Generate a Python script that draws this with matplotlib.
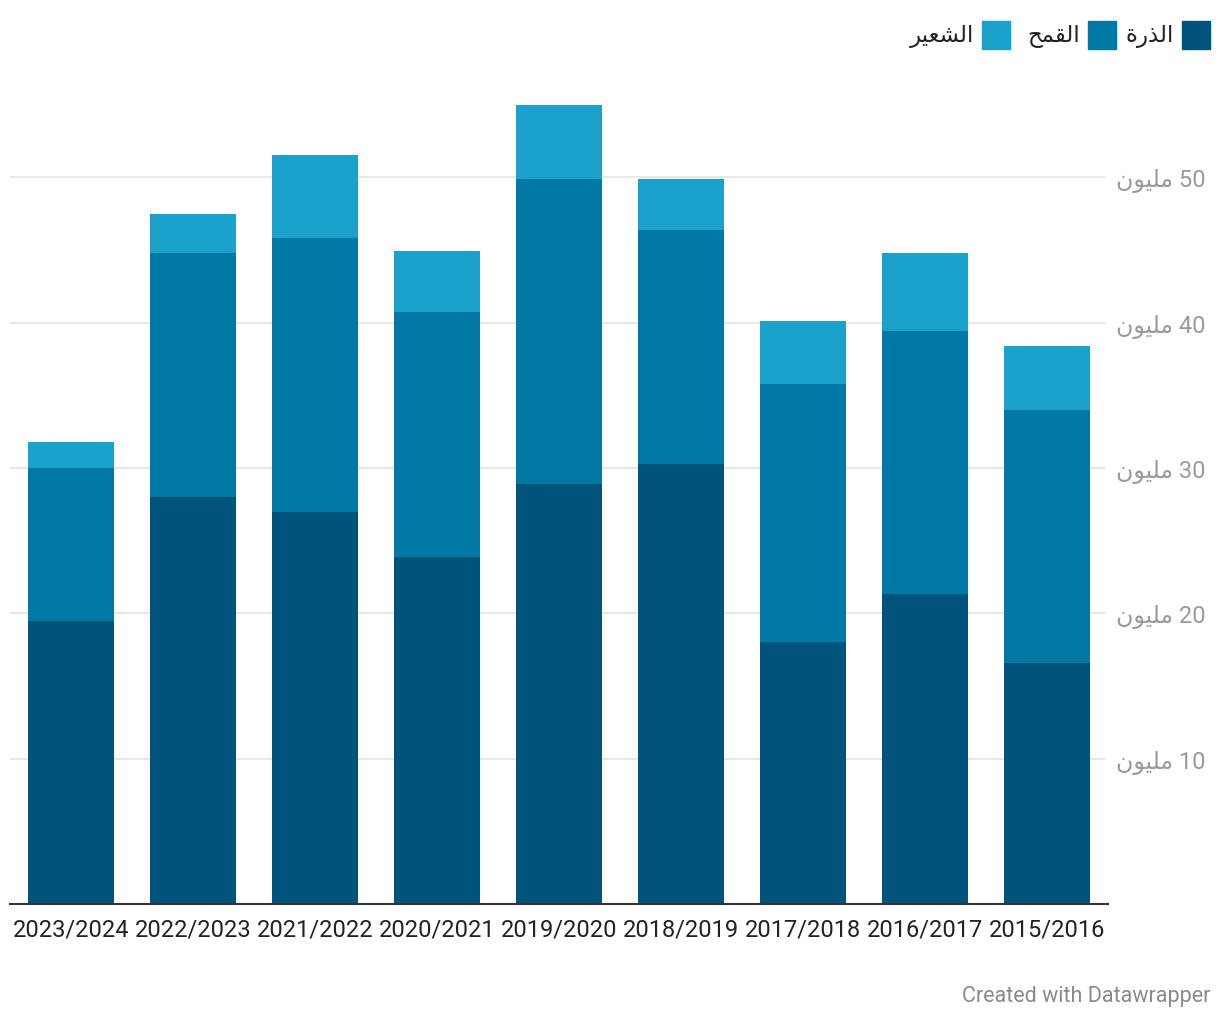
import matplotlib
matplotlib.use("Agg")
import matplotlib.pyplot as plt
from matplotlib.patches import Rectangle

# data (million tonnes)
seasons = ['2023/2024', '2022/2023', '2021/2022', '2020/2021', '2019/2020',
           '2018/2019', '2017/2018', '2016/2017', '2015/2016']
corn = [19.5, 28.0, 27.0, 23.9, 28.9, 30.3, 18.0, 21.3, 16.6]
wheat = [10.5, 16.8, 18.8, 16.8, 21.0, 16.1, 17.8, 18.1, 17.4]
barley = [1.8, 2.7, 5.7, 4.2, 5.05, 3.5, 4.3, 5.4, 4.4]
series_names = ['الذرة', 'القمح', 'الشعير']
colors = ['#00537b', '#0179a4', '#1aa1cc']
yticks = [10, 20, 30, 40, 50]
unit = 'مليون'

# --- tiny arabic shaper (no arabic_reshaper here) ---
# letter: (isolated, final, initial, medial); None = does not join forward
FORMS = {
    'ا': (0xFE8D, 0xFE8E, None, None),
    'ل': (0xFEDD, 0xFEDE, 0xFEDF, 0xFEE0),
    'ذ': (0xFEAB, 0xFEAC, None, None),
    'ر': (0xFEAD, 0xFEAE, None, None),
    'ة': (0xFE93, 0xFE94, None, None),
    'ق': (0xFED5, 0xFED6, 0xFED7, 0xFED8),
    'م': (0xFEE1, 0xFEE2, 0xFEE3, 0xFEE4),
    'ح': (0xFEA1, 0xFEA2, 0xFEA3, 0xFEA4),
    'ش': (0xFEB5, 0xFEB6, 0xFEB7, 0xFEB8),
    'ع': (0xFEC9, 0xFECA, 0xFECB, 0xFECC),
    'ي': (0xFEF1, 0xFEF2, 0xFEF3, 0xFEF4),
    'و': (0xFEED, 0xFEEE, None, None),
    'ن': (0xFEE5, 0xFEE6, 0xFEE7, 0xFEE8),
}


def shape(word):
    out = []
    for i, ch in enumerate(word):
        if ch not in FORMS:
            out.append(ch)
            continue
        prev = word[i - 1] if i > 0 else None
        nxt = word[i + 1] if i + 1 < len(word) else None
        jp = prev in FORMS and FORMS[prev][2] is not None
        jn = FORMS[ch][2] is not None and nxt in FORMS
        iso, fin, ini, med = FORMS[ch]
        if jp and jn:
            out.append(chr(med))
        elif jp:
            out.append(chr(fin))
        elif jn:
            out.append(chr(ini))
        else:
            out.append(chr(iso))
    return ''.join(out)[::-1]


plt.rcParams['font.family'] = ['Roboto', 'DejaVu Sans']

fig = plt.figure(figsize=(12.2, 10.2), dpi=100)
W, H = 1220, 1020
ax = fig.add_axes([10 / W, (H - 905) / H, 1098 / W, (905 - 91) / H])

x = list(range(len(seasons)))
bottom2 = [c + w for c, w in zip(corn, wheat)]
ax.bar(x, corn, width=0.697, color=colors[0], zorder=2)
ax.bar(x, wheat, width=0.697, bottom=corn, color=colors[1], zorder=2)
ax.bar(x, barley, width=0.697, bottom=bottom2, color=colors[2], zorder=2)

ax.set_xlim(-0.5, len(seasons) - 0.5)
ax.set_ylim(0, 56)
for t in yticks:
    ax.axhline(t, color='#e3e3e3', lw=1.2, zorder=1, xmax=1095 / 1098)

for s in ['top', 'right', 'left']:
    ax.spines[s].set_visible(False)
ax.spines['bottom'].set_color('#333333')
ax.spines['bottom'].set_linewidth(1.5)
ax.spines['bottom'].set_zorder(3)

ax.set_xticks(x)
ax.set_xticklabels(seasons, fontsize=17, color='#222222')
ax.tick_params(axis='x', length=0, pad=10)

ax.yaxis.tick_right()
ax.set_yticks(yticks)
ax.set_yticklabels([shape(unit) + ' ' + str(t) for t in yticks],
                   fontsize=17, color='#9a9a9a')
ax.tick_params(axis='y', length=0, pad=6)

# legend (right to left)
leg_items = [(1182, series_names[0], colors[0]),
             (1088, series_names[1], colors[1]),
             (982, series_names[2], colors[2])]
for px, name, col in leg_items:
    fig.patches.append(Rectangle((px / W, (H - 50) / H), 28 / W, 28 / H,
                                 transform=fig.transFigure, color=col))
    fig.text((px - 8) / W, (H - 36) / H, shape(name), ha='right', va='center',
             fontsize=16.5, color='#222222')

fig.text(1210 / W, (H - 997) / H, 'Created with Datawrapper', ha='right',
         va='center', fontsize=15.5, color='#8a8a8a')

fig.savefig('out.png', dpi=100, facecolor='white')
